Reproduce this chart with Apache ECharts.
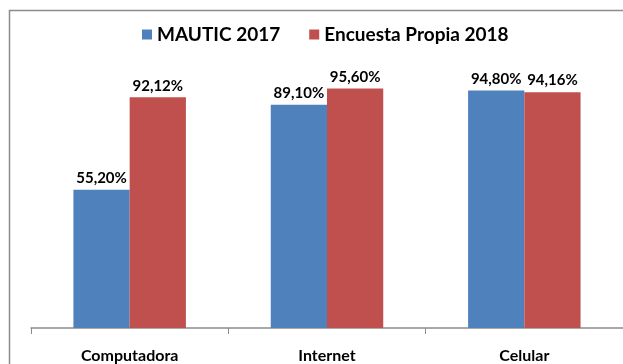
<!DOCTYPE html>
<html>
<head>
<meta charset="utf-8">
<script src="https://cdn.jsdelivr.net/npm/echarts@6/dist/echarts.min.js"></script>
<style>
  html, body { margin: 0; padding: 0; background: #fff; }
  #chart { width: 623px; height: 364px; }
</style>
</head>
<body>
<div id="chart"></div>
<script>
// Access to devices and services, two surveys
const categories = ['Computadora', 'Internet', 'Celular'];
const mautic2017 = [55.20, 89.10, 94.80];
const encuesta2018 = [92.12, 95.60, 94.16];
const seriesNames = ['MAUTIC 2017', 'Encuesta Propia 2018'];

const FONT = 'Lato, "Liberation Sans", sans-serif';

function pct(v) {
  return v.toFixed(2).replace('.', ',') + '%';
}

const labelStyle = {
  show: true,
  position: 'top',
  distance: 4,
  color: '#000',
  fontFamily: FONT,
  fontWeight: 'bold',
  fontSize: 15,
  formatter: p => pct(p.value)
};

const chart = echarts.init(document.getElementById('chart'), null, { renderer: 'canvas' });
chart.setOption({
  animation: false,
  backgroundColor: '#fff',
  graphic: [{
    type: 'rect',
    shape: { x: 9.5, y: 10.5, width: 700, height: 400 },
    style: { fill: 'none', stroke: '#8c8c8c', lineWidth: 1.5 },
    silent: true
  }],
  legend: {
    data: seriesNames,
    left: 137,
    top: 20,
    itemWidth: 10,
    itemHeight: 10,
    itemGap: 29,
    icon: 'rect',
    textStyle: { fontFamily: FONT, fontWeight: 'bold', fontSize: 19, color: '#000' }
  },
  grid: { left: 31, right: -5, top: 77.5, bottom: 29, containLabel: false },
  xAxis: {
    type: 'category',
    data: categories,
    axisLine: { lineStyle: { color: '#8c8c8c', width: 1.5 } },
    axisTick: { show: true, length: 6, lineStyle: { color: '#8c8c8c' } },
    axisLabel: { color: '#000', fontFamily: FONT, fontWeight: 'bold', fontSize: 16, margin: 20 }
  },
  yAxis: {
    type: 'value',
    min: 0,
    max: 100,
    show: false,
    splitLine: { show: false }
  },
  series: [
    {
      name: seriesNames[0],
      type: 'bar',
      data: mautic2017,
      itemStyle: { color: '#4F81BD' },
      barGap: '0%',
      barCategoryGap: '43%',
      label: labelStyle
    },
    {
      name: seriesNames[1],
      type: 'bar',
      data: encuesta2018,
      itemStyle: { color: '#C0504D' },
      label: labelStyle
    }
  ]
});
</script>
</body>
</html>
